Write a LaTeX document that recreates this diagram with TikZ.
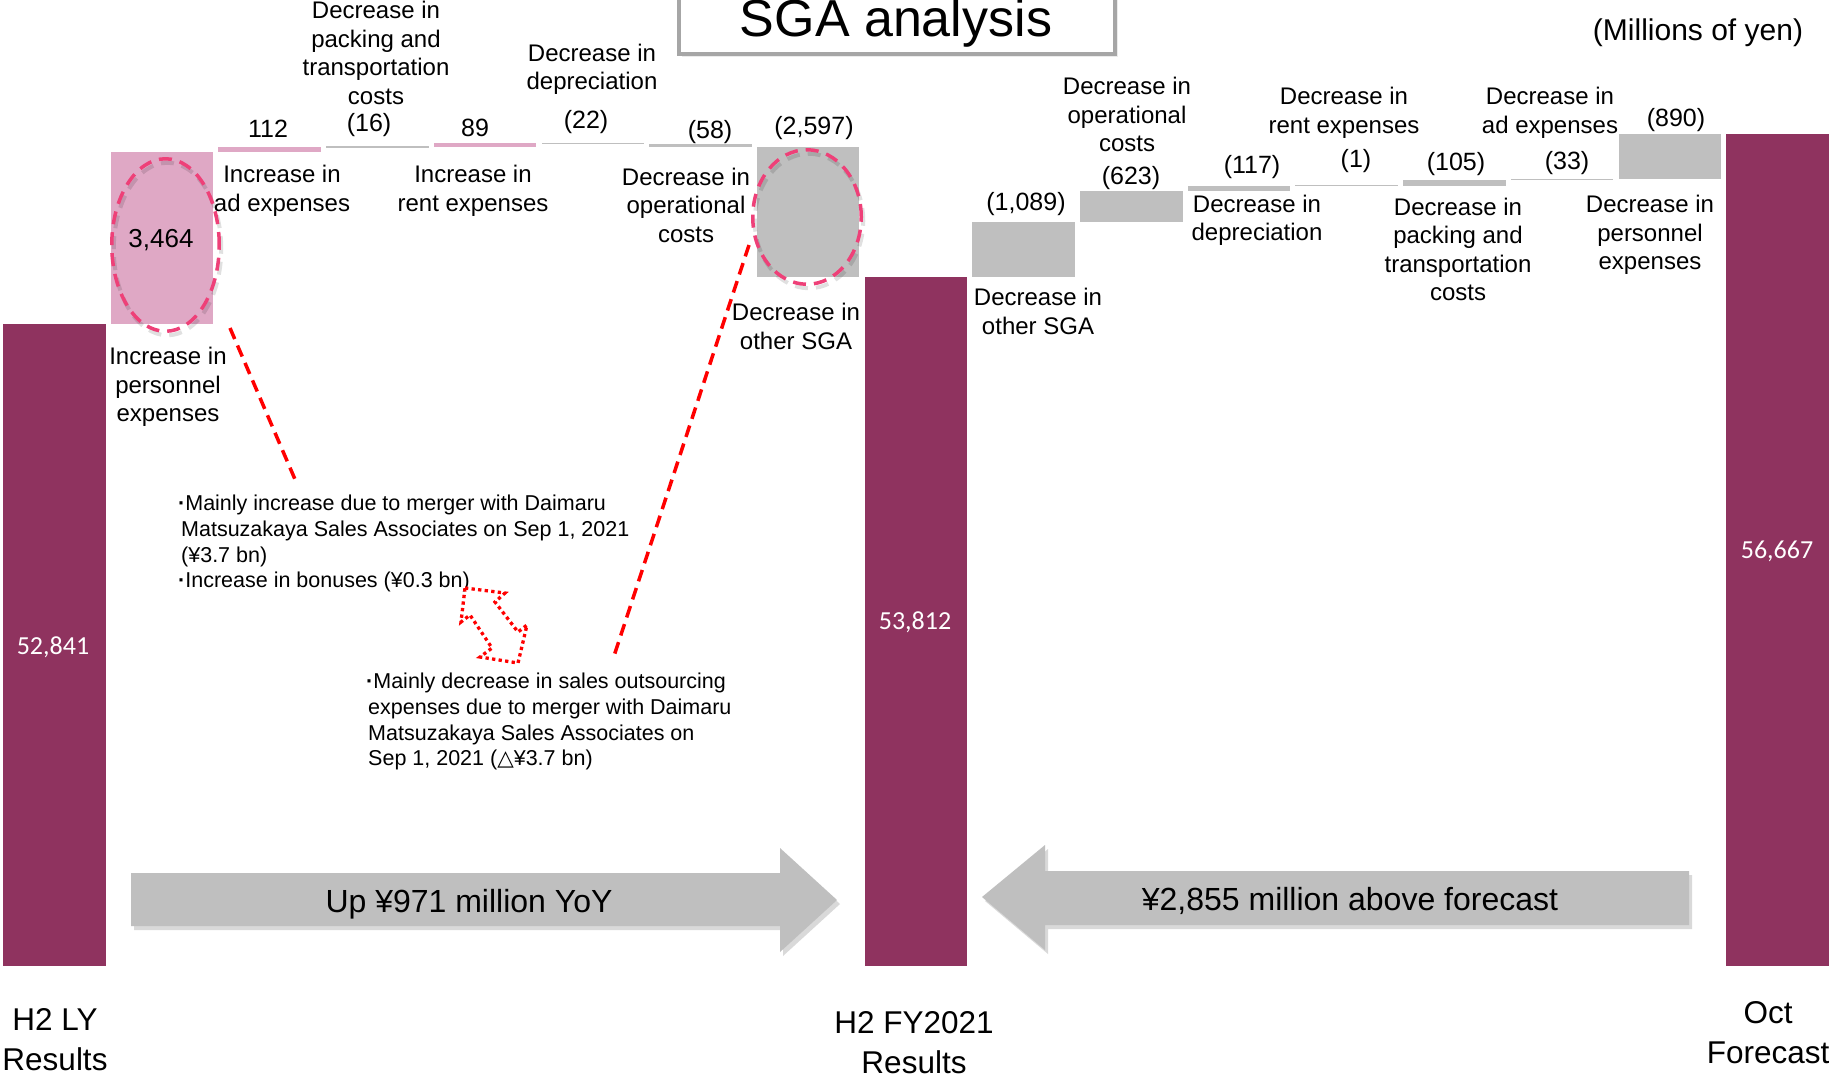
\documentclass[tikz,border=0pt]{standalone}
\usepackage{fontspec}
\setmainfont{Liberation Sans}
\newfontfamily\calfont{Carlito}
\newfontfamily\djfont{DejaVu Sans}
\usetikzlibrary{shapes.geometric}

\definecolor{barred}{RGB}{143,51,95}
\definecolor{pinkbar}{RGB}{223,168,197}
\definecolor{graybar}{RGB}{191,191,191}
\definecolor{ellpink}{RGB}{238,64,120}
\definecolor{redline}{RGB}{255,0,0}
\definecolor{boxgray}{RGB}{166,166,166}

\newcommand{\bul}{\textbf{·}}

\begin{document}
\begin{tikzpicture}[x=1pt,y=-1pt,
  bar/.style={anchor=north west, inner sep=0pt, outer sep=0pt, minimum width=102.5pt, draw=none},
  cat/.style={font=\fontsize{24}{28.5}\selectfont, align=center, inner sep=0pt},
  val/.style={font=\fontsize{25}{30}\selectfont, inner sep=0pt},
  total/.style={font=\calfont\fontsize{26}{30}\selectfont, text=white, inner sep=0pt},
  note/.style={font=\fontsize{21.5}{25.7}\selectfont, align=left, inner sep=0pt, anchor=north west},
  axislab/.style={font=\fontsize{31.5}{40}\selectfont, align=center, inner sep=0pt},
  big/.style={font=\fontsize{32}{36}\selectfont, inner sep=0pt},
  reddash/.style={draw=redline, line width=3.5pt, dash pattern=on 12pt off 7pt},
  ring/.style={ellipse, draw=ellpink, line width=3.5pt, dash pattern=on 13pt off 8pt, inner sep=0pt},
  ringshadow/.style={ellipse, draw=black, draw opacity=0.12, line width=4pt, dash pattern=on 13pt off 8pt, inner sep=0pt},
  bigarrow/.style={fill=graybar},
  arrowshadow/.style={fill=black, opacity=0.15},
]
\useasboundingbox (0,0) rectangle (1830,1077);
\fill[white] (0,0) rectangle (1830,1077);

% title
\fill[black, opacity=0.08] (682,-10) rectangle (1118,57);
\draw[boxgray, line width=4pt, fill=white] (679,-10) rectangle (1115,54);
\node[font=\fontsize{52}{60}\selectfont, anchor=base, inner sep=0pt] (title) at (896,36) {SGA analysis};
\node[font=\fontsize{30}{36}\selectfont, inner sep=0pt] (unit) at (1698,33) {(Millions of yen)};

% bars
\node[bar, fill=barred, minimum height=642pt] (b0) at (3,324) {};
\node[bar, fill=pinkbar, minimum height=171.8pt] (b1) at (110.7,152.2) {};
\node[bar, fill=pinkbar, minimum height=5.6pt] (b2) at (218.4,146.6) {};
\node[bar, fill=graybar, minimum height=1.4pt] (b3) at (326.1,146.3) {};
\node[bar, fill=pinkbar, minimum height=4.4pt] (b4) at (433.8,143.0) {};
\node[bar, fill=graybar, minimum height=1.4pt] (b5) at (541.5,143.0) {};
\node[bar, fill=graybar, minimum height=2.9pt] (b6) at (649.2,144.1) {};
\node[bar, fill=graybar, minimum height=130pt] (b7) at (756.9,147) {};
\node[bar, fill=barred, minimum height=689pt] (b8) at (864.6,277) {};
\node[bar, fill=graybar, minimum height=54.8pt] (b9) at (972.3,222.2) {};
\node[bar, fill=graybar, minimum height=30.9pt] (b10) at (1080,191.3) {};
\node[bar, fill=graybar, minimum height=5.7pt] (b11) at (1187.7,185.6) {};
\node[bar, fill=graybar, minimum height=1.2pt] (b12) at (1295.4,185) {};
\node[bar, fill=graybar, minimum height=5.2pt] (b13) at (1403.1,180.3) {};
\node[bar, fill=graybar, minimum height=1.6pt] (b14) at (1510.8,178.7) {};
\node[bar, fill=graybar, minimum height=44.4pt] (b15) at (1618.5,134.3) {};
\node[bar, fill=barred, minimum height=832pt] (b16) at (1726.2,134) {};

% totals
\node[total] (v0) at (53,647) {52,841};
\node[total] (v8) at (915,622) {53,812};
\node[total] (v16) at (1777,551) {56,667};
\node[val, font=\fontsize{26}{30}\selectfont] (v1) at (161,240) {3,464};

% value labels
\node[val] (v2) at (268,129) {112};
\node[val] (v3) at (369,125) {(16)};
\node[val] (v4) at (475,128) {89};
\node[val] (v5) at (586,122) {(22)};
\node[val] (v6) at (710,132) {(58)};
\node[val] (v7) at (814,128) {(2,597)};
\node[val] (v9) at (1026,204) {(1,089)};
\node[val] (v10) at (1131,178) {(623)};
\node[val] (v11) at (1252,167) {(117)};
\node[val] (v12) at (1356,161) {(1)};
\node[val] (v13) at (1456,164) {(105)};
\node[val] (v14) at (1567,163) {(33)};
\node[val] (v15) at (1676,120) {(890)};

% category labels
\node[cat] (c1) at (168,387) {Increase in\\personnel\\expenses};
\node[cat] (c2) at (282,191) {Increase in\\ad expenses};
\node[cat] (c3) at (376,53) {Decrease in\\packing and\\transportation\\costs};
\node[cat] (c4) at (473,191) {Increase in\\rent expenses};
\node[cat] (c5) at (592,69.5) {Decrease in\\depreciation};
\node[cat] (c6) at (686,205) {Decrease in\\operational\\costs};
\node[cat] (c7) at (796,326.5) {Decrease in\\other SGA};
\node[cat] (c9) at (1038,311.5) {Decrease in\\other SGA};
\node[cat] (c10) at (1127,114.5) {Decrease in\\operational\\costs};
\node[cat] (c11) at (1257,220.5) {Decrease in\\depreciation};
\node[cat] (c12) at (1344,113) {Decrease in\\rent expenses};
\node[cat] (c13) at (1458,249.5) {Decrease in\\packing and\\transportation\\costs};
\node[cat] (c14) at (1550,113) {Decrease in\\ad expenses};
\node[cat] (c15) at (1650,235) {Decrease in\\personnel\\expenses};

% axis labels
\node[axislab] (a0) at (55,1040) {H2 LY\\Results};
\node[axislab] (a8) at (914,1043) {H2 FY2021\\Results};
\node[axislab] (a16) at (1768,1033) {Oct\\Forecast};

% highlight rings
\node[ringshadow, minimum width=107.5pt, minimum height=172.5pt] (ring1s) at (167.5,249) {};
\node[ringshadow, minimum width=108.5pt, minimum height=134.5pt] (ring2s) at (809,221) {};
\node[ring, minimum width=107.5pt, minimum height=172.5pt] (ring1) at (165.5,245) {};
\node[ring, minimum width=108.5pt, minimum height=134.5pt] (ring2) at (807,217) {};

% notes
\node[note] (n1) at (178,495) {\bul Mainly increase due to merger with Daimaru\\
\hspace*{3pt}Matsuzakaya Sales Associates on Sep 1, 2021\\
\hspace*{3pt}(¥3.7 bn)\\
\bul Increase in bonuses (¥0.3 bn)};
\node[note] (n2) at (366,673) {\bul Mainly decrease in sales outsourcing\\
\hspace*{2pt}expenses due to merger with Daimaru\\
\hspace*{2pt}Matsuzakaya Sales Associates on\\
\hspace*{2pt}Sep 1, 2021 ({\djfont △}¥3.7 bn)};

% red dashed connectors
\coordinate (k1a) at (230,328);
\coordinate (k1b) at (297,484);
\coordinate (k2a) at (749,245);
\coordinate (k2b) at (614,656);
\draw[reddash] (k1a) -- (k1b);
\draw[reddash] (k2a) -- (k2b);

% dotted double arrow
\draw[redline, line width=3.3pt, dash pattern=on 3.3pt off 3.3pt, line join=miter]
  (465,588) -- (505,593) -- (495,602) -- (518,632) -- (527,625) -- (518,663)
  -- (480,657) -- (492,648) -- (470,615) -- (461,622) -- cycle;

% big arrows
\fill[arrowshadow] (134,877) -- (783,877) -- (783,852) -- (840,904) -- (783,956) -- (783,930) -- (134,930) -- cycle;
\fill[bigarrow] (131,873) -- (780,873) -- (780,848) -- (837,900) -- (780,952) -- (780,926) -- (131,926) -- cycle;
\node[big] (yoy) at (469,904) {Up ¥971 million YoY};

\fill[arrowshadow] (1692,875) -- (1048,875) -- (1048,849) -- (985,901) -- (1048,954) -- (1048,929) -- (1692,929) -- cycle;
\fill[bigarrow] (1689,871) -- (1045,871) -- (1045,845) -- (982,897) -- (1045,950) -- (1045,925) -- (1689,925) -- cycle;
\node[big] (fc) at (1350,901) {¥2,855 million above forecast};
\end{tikzpicture}
\end{document}
